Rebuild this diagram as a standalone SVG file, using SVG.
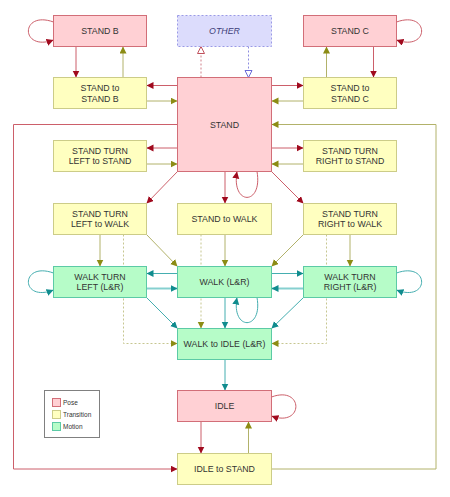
<svg xmlns="http://www.w3.org/2000/svg" width="450" height="497" viewBox="0 0 450 497">
<style>
.pose{fill:#ffd0d4;stroke:#d26e78;stroke-width:1}
.tran{fill:#ffffc0;stroke:#cccc88;stroke-width:1}
.mot{fill:#b6fcc8;stroke:#5ccaa6;stroke-width:1}
.oth{fill:#dcdcfc;stroke:#9a9ae6;stroke-width:1;stroke-dasharray:2,2}
text{font-family:"Liberation Sans",Arial,sans-serif;font-size:8.8px;fill:#333;text-anchor:middle}
.lg{font-size:6.5px;text-anchor:start}
.r{stroke:#cc5f6a;fill:none;stroke-width:1}
.o{stroke:#b2b26a;fill:none;stroke-width:1}
.t{stroke:#45aeb0;fill:none;stroke-width:1}
.tt{stroke:#86d0d0;fill:none;stroke-width:2}
.od{stroke:#c6c690;fill:none;stroke-width:1;stroke-dasharray:2,2}
.rd{stroke:#d07f88;fill:none;stroke-width:1;stroke-dasharray:2,2}
.bd{stroke:#8c8ce0;fill:none;stroke-width:1;stroke-dasharray:2,2}
.mr{marker-end:url(#ar)}
.mo{marker-end:url(#ao)}
.mt{marker-end:url(#at)}
</style>
<defs>
<marker id="ar" markerUnits="userSpaceOnUse" markerWidth="8" markerHeight="8" refX="7" refY="3.5" orient="auto"><path d="M0,0 L7,3.5 L0,7 z" fill="#a00a1e"/></marker>
<marker id="ao" markerUnits="userSpaceOnUse" markerWidth="8" markerHeight="8" refX="7" refY="3.5" orient="auto"><path d="M0,0 L7,3.5 L0,7 z" fill="#8c8c14"/></marker>
<marker id="at" markerUnits="userSpaceOnUse" markerWidth="8" markerHeight="8" refX="7" refY="3.5" orient="auto"><path d="M0,0 L7,3.5 L0,7 z" fill="#108c8e"/></marker>
<marker id="hr" markerUnits="userSpaceOnUse" markerWidth="9" markerHeight="9" refX="7.5" refY="4" orient="auto"><path d="M0.5,0.5 L7.5,4 L0.5,7.5 z" fill="#fff" stroke="#c0505c" stroke-width="1"/></marker>
<marker id="hb" markerUnits="userSpaceOnUse" markerWidth="9" markerHeight="9" refX="7.5" refY="4" orient="auto"><path d="M0.5,0.5 L7.5,4 L0.5,7.5 z" fill="#fff" stroke="#6a6ad8" stroke-width="1"/></marker>
</defs>
<rect width="450" height="497" fill="#fff"/>
<g id="connectors">
<path class="r mr" d="M53.5,22 C20,10 20,52 53.5,40"/>
<path class="r mr" d="M396.5,22 C430,10 430,52 396.5,40"/>
<path class="r mr" d="M257,171.5 C263,206 231,206 237,171.5"/>
<path class="t mt" d="M53.5,273 C20,261 20,303 53.5,290"/>
<path class="t mt" d="M396.5,273 C430,261 430,303 396.5,290"/>
<path class="t mt" d="M257,297.5 C263,331 231,331 237,297.5"/>
<path class="r mr" d="M271.5,397 C304,385 304,428 271.5,416"/>
<line class="r mr" x1="76" y1="46.5" x2="76" y2="77.5"/>
<line class="o mo" x1="123" y1="77.5" x2="123" y2="46.5"/>
<line class="r mr" x1="373.5" y1="46.5" x2="373.5" y2="77.5"/>
<line class="o mo" x1="326.5" y1="77.5" x2="326.5" y2="46.5"/>
<line class="rd" x1="201" y1="77.5" x2="201" y2="46.5" marker-end="url(#hr)"/>
<line class="bd" x1="248.5" y1="46.5" x2="248.5" y2="77.5" marker-end="url(#hb)"/>
<line class="r mr" x1="177.5" y1="85.5" x2="146.5" y2="85.5"/>
<line class="o mo" x1="146.5" y1="101" x2="177.5" y2="101"/>
<line class="r mr" x1="271.5" y1="85.5" x2="303.5" y2="85.5"/>
<line class="o mo" x1="303.5" y1="101" x2="271.5" y2="101"/>
<line class="r mr" x1="177.5" y1="148" x2="146.5" y2="148"/>
<line class="o mo" x1="146.5" y1="164" x2="177.5" y2="164"/>
<line class="r mr" x1="271.5" y1="148" x2="303.5" y2="148"/>
<line class="o mo" x1="303.5" y1="164" x2="271.5" y2="164"/>
<path class="r mr" d="M177.5,124.5 H13.5 V469 H177.5"/>
<path class="o mo" d="M271.5,469 H436 V124.5 H271.5"/>
<line class="r mr" x1="177.5" y1="171.5" x2="146.5" y2="203.5"/>
<line class="r mr" x1="225" y1="171.5" x2="225" y2="203.5"/>
<line class="r mr" x1="271.5" y1="171.5" x2="303.5" y2="203.5"/>
<line class="o mo" x1="100" y1="234.5" x2="100" y2="266.5"/>
<line class="o mo" x1="146.5" y1="234.5" x2="177.5" y2="266.5"/>
<line class="o mo" x1="225" y1="234.5" x2="225" y2="266.5"/>
<line class="o mo" x1="303.5" y1="234.5" x2="271.5" y2="266.5"/>
<line class="o mo" x1="350" y1="234.5" x2="350" y2="266.5"/>
<path class="od mo" d="M123.5,234.5 V343.5 H177.5"/>
<path class="od mo" d="M326.5,234.5 V343.5 H271.5"/>
<line class="od mo" x1="201" y1="234.5" x2="201" y2="328.5"/>
<line class="t mt" x1="177.5" y1="273.5" x2="146.5" y2="273.5"/>
<line class="tt mt" x1="146.5" y1="288.5" x2="177.5" y2="288.5"/>
<line class="t mt" x1="271.5" y1="273.5" x2="303.5" y2="273.5"/>
<line class="tt mt" x1="303.5" y1="288.5" x2="271.5" y2="288.5"/>
<line class="t mt" x1="146.5" y1="297.5" x2="177.5" y2="328.5"/>
<line class="t mt" x1="225" y1="297.5" x2="225" y2="328.5"/>
<line class="t mt" x1="303.5" y1="297.5" x2="271.5" y2="328.5"/>
<line class="t mt" x1="225" y1="359.5" x2="225" y2="390.5"/>
<line class="r mr" x1="201" y1="421.5" x2="201" y2="453.5"/>
<line class="o mo" x1="248.5" y1="453.5" x2="248.5" y2="421.5"/>
</g>
<g id="stand-b"><rect class="pose" x="53.5" y="15.5" width="93" height="31"/><text x="100" y="34">STAND B</text></g>
<g id="other"><rect class="oth" x="177.5" y="15.5" width="94" height="31"/><text x="224.5" y="34" style="font-style:italic;fill:#3c3c78">OTHER</text></g>
<g id="stand-c"><rect class="pose" x="303.5" y="15.5" width="93" height="31"/><text x="350" y="34">STAND C</text></g>
<g id="stand-to-stand-b"><rect class="tran" x="53.5" y="77.5" width="93" height="31"/><text x="100" y="91">STAND to</text><text x="100" y="101.5">STAND B</text></g>
<g id="stand"><rect class="pose" x="177.5" y="77.5" width="94" height="94"/><text x="224.5" y="127.5">STAND</text></g>
<g id="stand-to-stand-c"><rect class="tran" x="303.5" y="77.5" width="93" height="31"/><text x="350" y="91">STAND to</text><text x="350" y="101.5">STAND C</text></g>
<g id="stand-turn-left-to-stand"><rect class="tran" x="53.5" y="140.5" width="93" height="31"/><text x="100" y="153.5">STAND TURN</text><text x="100" y="164">LEFT to STAND</text></g>
<g id="stand-turn-right-to-stand"><rect class="tran" x="303.5" y="140.5" width="93" height="31"/><text x="350" y="153.5">STAND TURN</text><text x="350" y="164">RIGHT to STAND</text></g>
<g id="stand-turn-left-to-walk"><rect class="tran" x="53.5" y="203.5" width="93" height="31"/><text x="100" y="216.5">STAND TURN</text><text x="100" y="227">LEFT to WALK</text></g>
<g id="stand-to-walk"><rect class="tran" x="177.5" y="203.5" width="94" height="31"/><text x="224.5" y="222">STAND to WALK</text></g>
<g id="stand-turn-right-to-walk"><rect class="tran" x="303.5" y="203.5" width="93" height="31"/><text x="350" y="216.5">STAND TURN</text><text x="350" y="227">RIGHT to WALK</text></g>
<g id="walk-turn-left"><rect class="mot" x="53.5" y="266.5" width="93" height="31"/><text x="100" y="279.5">WALK TURN</text><text x="100" y="290">LEFT (L&amp;R)</text></g>
<g id="walk"><rect class="mot" x="177.5" y="266.5" width="94" height="31"/><text x="224.5" y="285">WALK (L&amp;R)</text></g>
<g id="walk-turn-right"><rect class="mot" x="303.5" y="266.5" width="93" height="31"/><text x="350" y="279.5">WALK TURN</text><text x="350" y="290">RIGHT (L&amp;R)</text></g>
<g id="walk-to-idle"><rect class="mot" x="177.5" y="328.5" width="94" height="31"/><text x="224.5" y="347">WALK to IDLE (L&amp;R)</text></g>
<g id="idle"><rect class="pose" x="177.5" y="390.5" width="94" height="31"/><text x="224.5" y="409">IDLE</text></g>
<g id="idle-to-stand"><rect class="tran" x="177.5" y="453.5" width="94" height="31"/><text x="224.5" y="472">IDLE to STAND</text></g>
<g id="legend">
<rect x="44.5" y="390.5" width="55" height="47" fill="#fff" stroke="#808080" stroke-width="1"/>
<rect class="pose" x="52.5" y="398.5" width="8" height="8"/>
<rect class="tran" x="52.5" y="410.5" width="8" height="8"/>
<rect class="mot" x="52.5" y="422.5" width="8" height="8"/>
<text class="lg" x="63" y="404.5">Pose</text>
<text class="lg" x="63" y="416.5">Transition</text>
<text class="lg" x="63" y="428.5">Motion</text>
</g>
</svg>
